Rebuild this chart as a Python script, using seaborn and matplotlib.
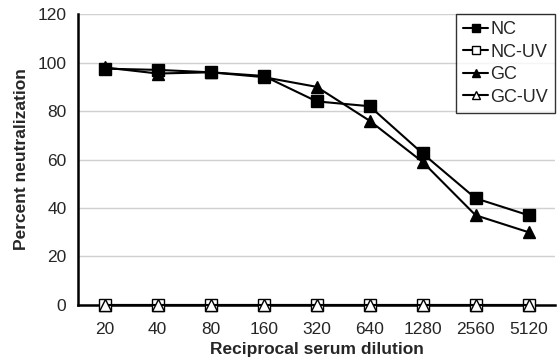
import pandas as pd
import matplotlib.pyplot as plt
import seaborn as sns
from matplotlib.ticker import FixedLocator

sns.set_style("white")
plt.rcParams['font.family'] = ['Liberation Sans', 'DejaVu Sans']

# --- Data ---
dilutions = ["20", "40", "80", "160", "320", "640", "1280", "2560", "5120"]
nc = [97.5, 97, 96, 94.5, 84, 82, 62.5, 44, 37]
nc_uv = [0, 0, 0, 0, 0, 0, 0, 0, 0]
gc = [98, 95.5, 96, 94, 90, 76, 59, 37, 30]
gc_uv = [0, 0, 0, 0, 0, 0, 0, 0, 0]

series = {"NC": nc, "NC-UV": nc_uv, "GC": gc, "GC-UV": gc_uv}
df = pd.concat(
    [pd.DataFrame({"Dilution": dilutions, "Percent": vals, "Group": name})
     for name, vals in series.items()],
    ignore_index=True,
)

fig = plt.figure(figsize=(5.59, 3.63), dpi=100)
ax = fig.add_axes([0.14, 0.16, 0.853, 0.801])

styles = {
    "NC": dict(marker="s", markerfacecolor="black"),
    "NC-UV": dict(marker="s", markerfacecolor="white"),
    "GC": dict(marker="^", markerfacecolor="black"),
    "GC-UV": dict(marker="^", markerfacecolor="white"),
}
for name in series:
    sub = df[df["Group"] == name]
    sns.lineplot(data=sub, x="Dilution", y="Percent", ax=ax, color="black",
                 linewidth=1.5, markersize=8, markeredgecolor="black",
                 markeredgewidth=1.0, label=name, sort=False, clip_on=False,
                 zorder=3, **styles[name])

ax.set_xlim(-0.5, len(dilutions) - 0.5)
ax.set_ylim(0, 120)
ax.set_yticks(range(0, 121, 20))
ax.yaxis.grid(True, color="#d0d0d0", linewidth=1)
ax.set_axisbelow(True)

# category boundary ticks like a spreadsheet chart
ax.xaxis.set_minor_locator(FixedLocator([i - 0.5 for i in range(len(dilutions) + 1)]))
ax.tick_params(axis="x", which="major", length=0, labelsize=12.5, pad=12)
ax.tick_params(axis="x", which="minor", length=5, width=1.5, direction="out", color="black")
ax.tick_params(axis="y", length=5, width=1.5, direction="out", labelsize=12.5, color="black")

for side in ["top", "right"]:
    ax.spines[side].set_visible(False)
for side in ["left", "bottom"]:
    ax.spines[side].set_color("black")
    ax.spines[side].set_linewidth(1.8)

ax.set_xlabel("Reciprocal serum dilution", fontsize=12.5, fontweight="bold", labelpad=4)
ax.set_ylabel("Percent neutralization", fontsize=12.5, fontweight="bold", labelpad=6)

leg = ax.legend(loc="upper right", fontsize=13, frameon=True, fancybox=False,
                handlelength=1.4, handletextpad=0.1, borderpad=0.4, markerscale=0.8,
                labelspacing=0.3, bbox_to_anchor=(1.0, 1.0), borderaxespad=0)
leg.get_frame().set_edgecolor("black")
leg.get_frame().set_linewidth(1.0)

fig.savefig("out.png", dpi=100)
